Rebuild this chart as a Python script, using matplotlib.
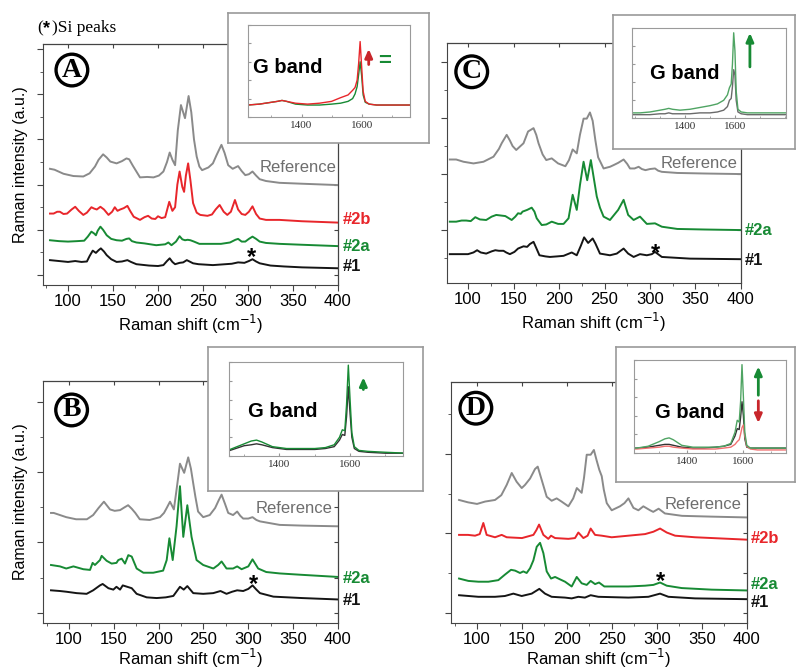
import matplotlib
matplotlib.use('Agg')
import matplotlib.pyplot as plt
from matplotlib.ticker import MultipleLocator, FixedLocator, NullFormatter

plt.rcParams['font.family'] = ['Liberation Sans', 'DejaVu Sans']

GREY = '#8a8a8a'
RED = '#e8262b'
GREEN = '#178a34'
BLACK = '#151515'
LGREEN = '#4fa463'

# ---- main spectra, (Raman shift, intensity a.u.) ----
A_REF = [(80, 2.35), (85, 2.33), (95, 2.24), (106, 2.19), (117, 2.18), (124, 2.25), (130, 2.40), (134, 2.55),
         (139, 2.67), (143, 2.60), (147, 2.51), (154, 2.47), (160, 2.52), (165, 2.58), (168, 2.56), (172, 2.42),
         (176, 2.29), (180, 2.16), (188, 2.17), (195, 2.16), (201, 2.20), (206, 2.29), (210, 2.50), (213, 2.71),
         (216, 2.55), (219, 2.43), (222, 3.20), (225.5, 3.76), (230, 3.47), (234, 3.96), (237, 3.60), (240, 3.00),
         (243, 2.62), (246, 2.40), (249, 2.32), (256, 2.38), (261, 2.47), (265, 2.65), (270.5, 2.88), (274, 2.70),
         (278, 2.43), (283, 2.35), (289, 2.41), (293, 2.30), (297, 2.21), (301, 2.23), (305, 2.29), (309, 2.20),
         (313, 2.12), (320, 2.08), (335, 2.04), (360, 2.02), (400, 1.99)]
A_2B = [(80, 1.36), (84, 1.36), (88, 1.40), (91, 1.40), (95, 1.35), (99, 1.36), (104, 1.45), (108, 1.51),
        (112, 1.42), (117, 1.33), (121, 1.38), (126, 1.50), (129, 1.47), (132, 1.45), (136, 1.51), (140, 1.45),
        (145, 1.33), (149, 1.40), (152, 1.50), (155, 1.42), (158, 1.45), (162, 1.48), (166, 1.53), (169, 1.42),
        (173, 1.29), (180, 1.22), (185, 1.28), (189, 1.31), (193, 1.25), (197, 1.24), (200, 1.30), (204, 1.26),
        (208, 1.28), (212.5, 1.62), (216, 1.42), (219, 1.50), (221.5, 2.00), (224, 2.29), (227, 1.95), (229, 1.84),
        (231, 2.20), (233.5, 2.47), (236, 2.10), (239, 1.59), (243, 1.38), (247, 1.33), (255, 1.31), (260, 1.34),
        (264, 1.45), (268.5, 1.55), (273, 1.40), (277, 1.33), (281, 1.40), (285.5, 1.66), (289, 1.45), (293, 1.35),
        (297, 1.33), (301, 1.40), (305, 1.52), (309, 1.35), (313, 1.25), (320, 1.22), (335, 1.22), (360, 1.19),
        (400, 1.16)]
A_2A = [(80, 0.77), (90, 0.75), (100, 0.74), (110, 0.75), (118, 0.76), (122, 0.85), (126, 0.96), (129, 0.92),
        (131, 0.88), (133, 0.98), (136, 1.07), (139, 1.00), (143, 0.88), (148, 0.80), (154, 0.77), (160, 0.76),
        (165, 0.80), (168, 0.81), (171, 0.75), (176, 0.72), (185, 0.70), (198, 0.66), (208, 0.68), (211.5, 0.72),
        (215, 0.66), (220, 0.74), (224, 0.86), (227, 0.79), (230, 0.77), (233, 0.78), (236, 0.77), (240, 0.74),
        (246, 0.69), (260, 0.69), (270, 0.69), (280, 0.72), (286, 0.78), (289, 0.80), (293, 0.74), (297, 0.74),
        (301, 0.80), (305, 0.85), (309, 0.80), (313, 0.74), (320, 0.71), (335, 0.69), (360, 0.67), (400, 0.64)]
A_1 = [(80, 0.33), (90, 0.31), (100, 0.29), (108, 0.31), (115, 0.29), (121, 0.30), (124, 0.42), (127.5, 0.54),
       (131, 0.49), (134, 0.55), (136.5, 0.59), (140, 0.52), (143, 0.44), (148, 0.35), (154, 0.29), (160, 0.30),
       (166, 0.33), (170, 0.29), (176, 0.24), (190, 0.21), (200, 0.20), (206, 0.22), (210, 0.31), (213, 0.37),
       (216, 0.29), (219, 0.24), (224, 0.27), (228, 0.28), (232, 0.33), (235, 0.30), (239, 0.26), (245, 0.24),
       (261, 0.22), (275, 0.24), (282, 0.25), (289, 0.28), (296, 0.27), (301, 0.31), (305, 0.35), (309, 0.30),
       (313, 0.26), (325, 0.21), (340, 0.19), (360, 0.17), (400, 0.15)]

C_REF = [(80, 1.26), (87, 1.26), (95, 1.22), (106, 1.19), (117, 1.22), (128, 1.31), (134, 1.45), (137, 1.55),
         (142.5, 1.70), (146, 1.60), (149, 1.50), (153, 1.43), (157, 1.49), (161, 1.55), (166, 1.76), (172, 1.82),
         (175, 1.70), (177.5, 1.55), (182, 1.35), (186, 1.25), (192, 1.28), (199, 1.19), (207, 1.14), (211, 1.25),
         (215, 1.44), (219.5, 1.37), (223, 1.70), (227, 1.99), (230.5, 1.99), (234, 2.10), (237, 1.95), (240, 1.60),
         (243, 1.30), (249, 1.10), (256, 1.13), (260, 1.16), (265, 1.20), (271, 1.26), (275, 1.18), (278, 1.10),
         (283, 1.10), (287.5, 1.13), (291, 1.09), (295, 1.07), (300, 1.09), (305.5, 1.10), (309, 1.06), (313, 1.04),
         (330, 1.02), (360, 1.01), (400, 1.00)]
C_2A = [(80, 0.15), (87, 0.15), (93, 0.17), (98, 0.17), (103, 0.16), (108, 0.23), (113, 0.19), (120, 0.18),
        (126, 0.24), (131, 0.27), (136, 0.26), (141, 0.25), (148, 0.18), (152, 0.24), (155, 0.30), (158, 0.29),
        (160, 0.33), (165, 0.36), (170, 0.40), (173, 0.33), (175.5, 0.21), (181, 0.09), (186, 0.10), (192, 0.15),
        (199, 0.11), (205, 0.11), (210.5, 0.21), (215, 0.63), (219.5, 0.36), (223, 0.80), (227, 1.22), (231, 0.89),
        (235, 1.25), (238, 0.95), (241.5, 0.60), (245, 0.40), (249, 0.24), (256, 0.18), (265, 0.36), (271, 0.54),
        (276, 0.27), (282, 0.18), (289, 0.24), (296.5, 0.11), (305.5, 0.12), (313, 0.06), (330, 0.02), (360, 0.01),
        (400, 0.00)]
C_1 = [(80, -0.43), (90, -0.43), (100, -0.43), (106, -0.40), (110, -0.36), (114, -0.40), (120, -0.42),
       (126, -0.38), (130, -0.36), (134, -0.37), (139, -0.37), (142, -0.40), (146, -0.43), (151, -0.39),
       (155, -0.33), (158, -0.31), (161, -0.29), (165, -0.30), (168, -0.25), (172, -0.21), (175, -0.32),
       (178.5, -0.45), (185, -0.47), (190, -0.48), (198, -0.47), (205, -0.46), (211, -0.42), (214, -0.40),
       (219.5, -0.45), (224, -0.28), (227.6, -0.13), (232, -0.23), (237, -0.15), (240, -0.24), (245, -0.42),
       (256, -0.45), (263.5, -0.42), (271, -0.33), (276, -0.42), (282, -0.48), (289, -0.43), (296.5, -0.45),
       (302, -0.43), (305.5, -0.39), (313, -0.48), (344, -0.51), (400, -0.52)]

B_REF = [(80, 1.42), (83, 1.42), (90, 1.39), (97, 1.36), (108, 1.33), (120, 1.33), (127, 1.39), (133, 1.49),
         (139, 1.58), (145.8, 1.47), (151, 1.45), (157, 1.46), (162, 1.50), (166, 1.53), (170, 1.48), (174, 1.42),
         (179, 1.33), (190, 1.32), (201.5, 1.36), (206, 1.42), (209, 1.49), (212.7, 1.58), (217, 1.47), (220, 1.75),
         (223.8, 2.12), (228.5, 1.99), (233, 2.21), (236, 2.05), (238.6, 1.84), (241, 1.65), (244, 1.44),
         (249.7, 1.36), (257, 1.39), (263, 1.49), (267, 1.60), (270.2, 1.68), (274, 1.55), (277.6, 1.42), (283, 1.39),
         (287.6, 1.44), (291, 1.38), (294.3, 1.34), (300, 1.34), (304.7, 1.36), (309, 1.32), (313, 1.30),
         (335, 1.25), (360, 1.24), (400, 1.23)]
B_2A = [(80, 0.68), (90, 0.66), (97, 0.63), (105, 0.66), (116, 0.62), (123.5, 0.61), (126.4, 0.71), (129, 0.68),
        (134.6, 0.75), (136.5, 0.81), (142, 0.74), (147.6, 0.70), (153, 0.71), (155, 0.75), (158.8, 0.77),
        (162.5, 0.70), (166.2, 0.82), (170, 0.80), (175.5, 0.63), (183, 0.57), (194, 0.57), (205, 0.60), (209, 0.75),
        (212, 1.06), (215.7, 0.75), (220, 1.23), (223.8, 1.80), (227.5, 1.08), (232, 1.53), (236.7, 1.08),
        (242.3, 0.75), (249.7, 0.68), (261, 0.63), (266.4, 0.68), (270.2, 0.73), (275.7, 0.63), (283, 0.63),
        (287.6, 0.66), (292.5, 0.62), (300, 0.66), (304.7, 0.76), (311, 0.63), (320, 0.58), (335, 0.56),
        (360, 0.54), (400, 0.51)]
B_1 = [(80, 0.32), (90, 0.31), (97, 0.30), (108.6, 0.28), (119.7, 0.27), (127, 0.32), (134.6, 0.39), (137.6, 0.41),
       (144, 0.35), (149.5, 0.33), (153, 0.37), (157, 0.33), (160, 0.39), (165, 0.37), (170, 0.35), (175.5, 0.27),
       (186.7, 0.22), (197.8, 0.21), (208, 0.22), (216.4, 0.24), (223.8, 0.37), (228, 0.33), (232, 0.38),
       (238.6, 0.28), (249.7, 0.27), (260.9, 0.28), (269, 0.31), (275.7, 0.27), (282, 0.30), (287.6, 0.32),
       (294.3, 0.31), (300, 0.34), (304.7, 0.39), (309, 0.33), (313, 0.28), (328, 0.23), (360, 0.21), (400, 0.19)]

D_REF = [(80, 1.42), (90, 1.39), (100, 1.37), (109, 1.40), (120, 1.42), (127, 1.48), (133, 1.61), (138.6, 1.76),
         (144, 1.65), (149.7, 1.57), (153.4, 1.61), (159, 1.69), (164.5, 1.81), (167.5, 1.84), (172, 1.67),
         (177.5, 1.46), (183, 1.41), (188.6, 1.44), (194, 1.40), (201.6, 1.34), (207, 1.44), (211, 1.57),
         (216.4, 1.51), (219, 1.70), (222, 1.99), (226.4, 1.99), (230, 2.05), (233, 1.92), (236, 1.80), (238.7, 1.72),
         (241, 1.55), (244.3, 1.38), (249.8, 1.29), (259, 1.34), (264, 1.38), (268.4, 1.44), (274, 1.32),
         (279.5, 1.29), (285, 1.34), (292.5, 1.29), (296, 1.27), (302, 1.31), (309, 1.25), (328, 1.22), (361, 1.21),
         (400, 1.20)]
D_2B = [(80, 0.98), (90, 0.98), (97.8, 0.97), (103, 0.99), (107, 1.13), (110.7, 0.98), (120, 0.95), (127.4, 0.98),
        (133, 0.95), (150, 0.94), (162.7, 0.98), (166, 1.04), (169, 1.11), (173.8, 0.98), (179.3, 0.93),
        (182.3, 0.97), (186.8, 0.94), (201.6, 0.93), (209, 0.94), (212.7, 1.01), (218.3, 0.94), (223, 0.97),
        (226.4, 1.06), (231.3, 0.98), (238.7, 0.97), (249.8, 0.95), (268.4, 0.97), (286.9, 0.99), (296.2, 1.02),
        (303.6, 1.06), (311, 1.01), (320.3, 0.97), (342.5, 0.95), (400, 0.92)]
D_2A = [(80, 0.43), (90.4, 0.40), (101.5, 0.39), (112.6, 0.39), (123.7, 0.41), (131.1, 0.48), (137.8, 0.54),
        (142.3, 0.53), (147.8, 0.50), (151.5, 0.52), (155.2, 0.50), (159, 0.56), (162.7, 0.66), (166.4, 0.83),
        (170.1, 0.88), (173.8, 0.75), (177.5, 0.52), (182.3, 0.43), (186.8, 0.45), (192.3, 0.42), (197.9, 0.39),
        (205.3, 0.33), (210.9, 0.45), (216.4, 0.37), (222, 0.35), (226.4, 0.40), (231.3, 0.36), (235.7, 0.38),
        (241.6, 0.33), (268.4, 0.33), (286.9, 0.34), (296.2, 0.35), (303.6, 0.38), (311, 0.34), (327.7, 0.31),
        (361, 0.29), (400, 0.28)]
D_1 = [(80, 0.22), (101.5, 0.20), (120, 0.20), (131, 0.21), (140.4, 0.24), (149.7, 0.21), (160.8, 0.24),
       (169.3, 0.30), (175.6, 0.24), (183, 0.20), (197.9, 0.19), (205.3, 0.18), (212.7, 0.20), (220, 0.19),
       (226.4, 0.22), (234.9, 0.20), (268.4, 0.19), (290.6, 0.20), (303.6, 0.24), (312.9, 0.20), (342.5, 0.18),
       (400, 0.17)]

# ---- G band insets (normalised intensity) ----
G_X = [1190, 1220, 1260, 1300, 1320, 1335, 1350, 1380, 1420, 1460, 1500, 1530, 1555, 1570, 1578, 1585, 1590,
       1595, 1600, 1605, 1612, 1625, 1650, 1700, 1760, 1810]
A_G_RED = [0.13, 0.13, 0.14, 0.16, 0.17, 0.18, 0.17, 0.15, 0.14, 0.15, 0.17, 0.21, 0.24, 0.29, 0.32, 0.40, 0.58,
           0.82, 0.55, 0.28, 0.17, 0.14, 0.13, 0.13, 0.13, 0.13]
A_G_GRN = [0.13, 0.13, 0.14, 0.16, 0.17, 0.18, 0.17, 0.14, 0.13, 0.13, 0.14, 0.15, 0.17, 0.20, 0.25, 0.33, 0.46,
           0.60, 0.45, 0.24, 0.16, 0.14, 0.13, 0.13, 0.13, 0.13]
B_G_GRN = [0.04, 0.04, 0.07, 0.13, 0.16, 0.17, 0.15, 0.10, 0.08, 0.08, 0.08, 0.09, 0.12, 0.20, 0.28, 0.27, 0.55,
           0.97, 0.60, 0.25, 0.10, 0.06, 0.05, 0.04, 0.03, 0.03]
B_G_BLK = [0.03, 0.03, 0.06, 0.11, 0.12, 0.13, 0.12, 0.09, 0.07, 0.07, 0.07, 0.08, 0.10, 0.17, 0.23, 0.22, 0.42,
           0.74, 0.45, 0.20, 0.08, 0.05, 0.04, 0.03, 0.03, 0.03]
C_G_GRN = [0.06, 0.06, 0.07, 0.09, 0.10, 0.11, 0.10, 0.09, 0.10, 0.12, 0.14, 0.16, 0.20, 0.26, 0.34, 0.38, 0.60,
           0.95, 0.75, 0.30, 0.10, 0.07, 0.06, 0.06, 0.06, 0.06]
C_G_GRY = [0.04, 0.04, 0.04, 0.05, 0.05, 0.06, 0.05, 0.05, 0.05, 0.06, 0.06, 0.07, 0.09, 0.13, 0.20, 0.22, 0.35,
           0.54, 0.48, 0.20, 0.07, 0.05, 0.04, 0.04, 0.04, 0.04]
D_G_GRN = [0.05, 0.05, 0.07, 0.12, 0.15, 0.16, 0.14, 0.08, 0.06, 0.06, 0.06, 0.07, 0.10, 0.22, 0.35, 0.33, 0.55,
           0.95, 0.60, 0.22, 0.08, 0.05, 0.05, 0.05, 0.05, 0.05]
D_G_BLK = [0.05, 0.05, 0.06, 0.08, 0.09, 0.09, 0.08, 0.06, 0.05, 0.05, 0.06, 0.07, 0.09, 0.18, 0.26, 0.25, 0.38,
           0.55, 0.40, 0.15, 0.06, 0.05, 0.05, 0.05, 0.05, 0.05]
D_G_RED = [0.04, 0.04, 0.05, 0.06, 0.07, 0.07, 0.06, 0.05, 0.04, 0.04, 0.04, 0.05, 0.06, 0.09, 0.12, 0.14, 0.20,
           0.27, 0.30, 0.18, 0.07, 0.04, 0.03, 0.03, 0.03, 0.03]
G_TICKS = [1400, 1600]


def unzip(pts):
    return [p[0] for p in pts], [p[1] for p in pts]


def main_panel(rect, letter, curves, xlim, ylim, ref_pos, tags, star, ylabel, xpad):
    ax = fig.add_axes(rect)
    for pts, col in curves:
        x, y = unzip(pts)
        ax.plot(x, y, color=col, lw=1.4, solid_joinstyle='round')
    ax.set_xlim(xlim)
    ax.set_ylim(ylim)
    ax.xaxis.set_major_locator(MultipleLocator(50))
    ax.xaxis.set_minor_locator(MultipleLocator(25))
    ax.yaxis.set_major_locator(MultipleLocator(1))
    ax.yaxis.set_minor_locator(MultipleLocator(0.5))
    ax.yaxis.set_major_formatter(NullFormatter())
    ax.tick_params(which='both', direction='out', top=False, right=False, labelsize=12, color='#444', pad=2.5)
    ax.tick_params(which='major', length=4)
    ax.tick_params(which='minor', length=2)
    for s in ax.spines.values():
        s.set_color('#444')
    # mirror ticks on top / right pointing inwards
    for sec in (ax.secondary_xaxis('top'), ax.secondary_yaxis('right')):
        sec.tick_params(which='both', direction='in', labeltop=False, labelright=False, color='#444')
        sec.tick_params(which='major', length=3)
        sec.tick_params(which='minor', length=1.5)
    ax.set_xlabel('Raman shift (cm$^{-1}$)', fontsize=12, labelpad=xpad)
    if ylabel:
        ax.set_ylabel('Raman intensity (a.u.)', fontsize=11.5, labelpad=4)
    ax.text(ref_pos[0], ref_pos[1], 'Reference', color='#6e6e6e', fontsize=12, ha='right', va='center')
    for txt, xx, yy, col in tags:
        ax.text(xx, yy, txt, color=col, fontsize=12, fontweight='bold', ha='left', va='center', clip_on=False)
    ax.text(star[0], star[1], '*', fontsize=17, fontweight='bold', ha='center', va='center')
    ax.text(letter[1], letter[2], letter[0], transform=ax.transAxes, family='Liberation Serif',
            fontsize=20, fontweight='bold', ha='center', va='center',
            bbox=dict(boxstyle='circle,pad=0.12', fc='white', ec='black', lw=2.4))
    return ax


def g_inset(box, rect, xlim, curves, arrows, extra=None, gpos=(0.3, 0.5)):
    bx = fig.add_axes(box)
    bx.set_xticks([])
    bx.set_yticks([])
    bx.set_facecolor('white')
    for s in bx.spines.values():
        s.set_color('#9a9a9a')
        s.set_linewidth(1.2)
    ix = fig.add_axes(rect)
    for ys, col in curves:
        ix.plot(G_X, ys, color=col, lw=1.0)
    ix.set_xlim(xlim)
    ix.set_ylim(0, 1)
    ix.xaxis.set_major_locator(FixedLocator(G_TICKS))
    ix.xaxis.set_minor_locator(MultipleLocator(100))
    ix.yaxis.set_major_locator(MultipleLocator(0.2))
    ix.yaxis.set_major_formatter(NullFormatter())
    ix.tick_params(which='both', direction='in', labelsize=8, color='#999', labelcolor='#333', pad=3)
    ix.tick_params(which='major', length=2.5)
    ix.tick_params(which='minor', length=1.5)
    for lab in ix.get_xticklabels():
        lab.set_family('Liberation Serif')
    for s in ix.spines.values():
        s.set_color('#9a9a9a')
        s.set_linewidth(0.8)
    ix.text(gpos[0], gpos[1], 'G band', transform=ix.transAxes, fontsize=14.5, fontweight='bold',
            ha='center', va='center')
    for xa, y0, y1, col in arrows:
        ix.annotate('', xy=(xa, y1), xytext=(xa, y0), xycoords='axes fraction',
                    arrowprops=dict(arrowstyle='-|>,head_length=0.5,head_width=0.22', color=col, lw=2))
    if extra:
        ix.text(extra[0], extra[1], extra[2], transform=ix.transAxes, color=extra[3], fontsize=16,
                fontweight='bold', ha='center', va='center')
    return ix


fig = plt.figure(figsize=(7.96, 6.72), dpi=100)

# panel A
main_panel([0.054, 0.5759, 0.3706, 0.3586], ('A', 0.098, 0.892),
           [(A_REF, GREY), (A_2B, RED), (A_2A, GREEN), (A_1, BLACK)],
           (72.2, 400), (-0.22, 5.11), (397.8, 2.37),
           [('#2b', 405.6, 1.22, RED), ('#2a', 405.6, 0.64, GREEN), ('#1', 405.6, 0.18, BLACK)],
           (304, 0.38), True, 3)
# panel C
main_panel([0.5612, 0.5793, 0.3697, 0.3571], ('C', 0.085, 0.879),
           [(C_REF, GREY), (C_2A, GREEN), (C_1, BLACK)],
           (76.6, 400), (-0.94, 3.345), (396, 1.19),
           [('#2a', 403.6, 0.0, GREEN), ('#1', 403.6, -0.54, BLACK)],
           (306.5, -0.41), False, 3)
# panel B
main_panel([0.0536, 0.0734, 0.371, 0.3601], ('B', 0.098, 0.879),
           [(B_REF, GREY), (B_2A, GREEN), (B_1, BLACK)],
           (70.7, 400), (-0.14, 3.30), (394.3, 1.48),
           [('#2a', 405.5, 0.49, GREEN), ('#1', 405.5, 0.17, BLACK)],
           (306, 0.40), True, 0.5)
# panel D
main_panel([0.5662, 0.0734, 0.3719, 0.3586], ('D', 0.085, 0.89),
           [(D_REF, GREY), (D_2B, RED), (D_2A, GREEN), (D_1, BLACK)],
           (70.7, 400), (-0.126, 2.91), (394.4, 1.36),
           [('#2b', 404.4, 0.94, RED), ('#2a', 404.4, 0.35, GREEN), ('#1', 404.4, 0.13, BLACK)],
           (304, 0.39), False, 0.5)

# insets
g_inset([0.2864, 0.7872, 0.2525, 0.1935], [0.3116, 0.8259, 0.2035, 0.1369], (1222, 1761),
        [(A_G_GRN, GREEN), (A_G_RED, RED)], [(0.745, 0.54, 0.77, '#c8262b')],
        extra=(0.845, 0.60, '=', GREEN), gpos=(0.247, 0.543))
g_inset([0.7697, 0.7783, 0.229, 0.1994], [0.7943, 0.824, 0.1927, 0.1339], (1189, 1803),
        [(C_G_GRY, '#6a6a6a'), (C_G_GRN, LGREEN)], [(0.767, 0.54, 0.98, GREEN)], gpos=(0.344, 0.503))
g_inset([0.2617, 0.2698, 0.2693, 0.2143], [0.2881, 0.3214, 0.2178, 0.1394], (1258, 1749),
        [(B_G_BLK, '#333333'), (B_G_GRN, GREEN)], [(0.773, 0.68, 0.87, GREEN)], gpos=(0.31, 0.473))
g_inset([0.7735, 0.2832, 0.2253, 0.2009], [0.7969, 0.3263, 0.1902, 0.138], (1211, 1751),
        [(D_G_BLK, '#333333'), (D_G_RED, '#f07070'), (D_G_GRN, LGREEN)],
        [(0.819, 0.59, 0.96, GREEN), (0.819, 0.59, 0.29, '#c8262b')], gpos=(0.368, 0.434))

# "(*)Si peaks" note above panel A
fig.text(0.0465, 0.958, '(', family='Liberation Serif', fontsize=12.5, va='center')
fig.text(0.0545, 0.958, '*', family='Liberation Sans', fontsize=13, fontweight='bold', va='center')
fig.text(0.0655, 0.958, ')Si peaks', family='Liberation Serif', fontsize=12.5, va='center')

fig.savefig('out.png', dpi=100)
